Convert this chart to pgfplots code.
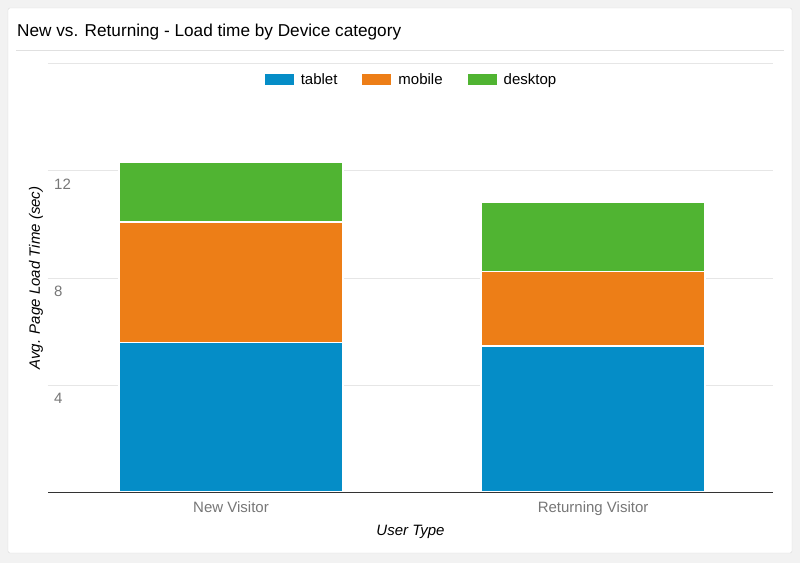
\documentclass[border=0pt]{standalone}
\usepackage{pgfplots}
\pgfplotsset{compat=1.18}
\usepackage{fontspec}
\setmainfont{Liberation Sans}

\definecolor{gaTablet}{HTML}{058DC7}
\definecolor{gaMobile}{HTML}{ED7E17}
\definecolor{gaDesktop}{HTML}{50B432}
\definecolor{tickgray}{HTML}{777777}
\definecolor{gridgray}{HTML}{E6E6E6}

\newcommand{\fs}[1]{\fontsize{#1}{#1}\selectfont}

\pgfplotsset{
	frame/.style={
		at={(48pt,71pt)}, anchor=south west,
		scale only axis,
		width=725pt, height=428pt,
		xmin=-0.5055, xmax=1.497,
		ymin=0, ymax=16,
	},
}

\begin{document}
\begin{tikzpicture}[x=1pt,y=1pt]
	% page and card
	\fill[black!5] (0,0) rectangle (800,563);
	\draw[fill=white, draw=black!15, rounded corners=2pt] (8,10) rectangle (792,555);
	\draw[black!12] (16,513) -- (784,513);
	\node[anchor=west, inner sep=0pt] at (17,531) {\fs{17.2}New vs. Returning - Load time by Device category};

	\begin{axis}[
			frame,
			ybar stacked,
			bar width=224pt,
			xtick={0,1},
			xticklabels={New Visitor,Returning Visitor},
			ytick={4,8,12},
			extra y ticks={16},
			extra y tick labels={},
			ymajorgrids,
			grid style={gridgray, line width=1pt},
			axis line style={draw=none},
			major tick length=0pt,
			/pgf/number format/assume math mode=true,
			ticklabel style={font=\fs{15}, text=tickgray},
			yticklabel style={anchor=north west, inner sep=0pt, xshift=6pt, yshift=-8pt},
			xticklabel style={inner sep=0pt, yshift=-9pt},
			ylabel={\itshape Avg. Page Load Time (sec)},
			xlabel={\itshape User Type},
			every axis y label/.style={at={(rel axis cs:-0.0166,0.5)}, rotate=90, anchor=center, font=\fs{15}},
			every axis x label/.style={at={(rel axis cs:0.5,0)}, anchor=center, yshift=-40pt, font=\fs{15}},
			legend columns=-1,
			legend style={
				at={(rel axis cs:0.5,1)}, anchor=center, yshift=-16pt,
				draw=none, fill=none, font=\fs{15},
				nodes={inner sep=0pt, anchor=west},
				/tikz/every odd column/.append style={column sep=7pt},
				/tikz/every even column/.append style={column sep=25pt},
			},
			legend image code/.code={\fill[#1, draw=none] (0pt,-5.5pt) rectangle (29pt,5.5pt);},
		]

		\addplot+[fill=gaTablet, draw=white, line width=1.5pt] coordinates {
			(0, 5.58)
			(1, 5.46)
		};
		\addplot+[fill=gaMobile, draw=white, line width=1.5pt] coordinates {
			(0, 4.52)
			(1, 2.78)
		};
		\addplot+[fill=gaDesktop, draw=white, line width=1.5pt] coordinates {
			(0, 2.23)
			(1, 2.61)
		};
		\legend{tablet,mobile,desktop}
	\end{axis}

	% second, empty axis on the same frame: only the baseline, over the bars
	\begin{axis}[
			frame,
			axis x line*=bottom,
			axis y line=none,
			x axis line style={black!80, line width=1pt},
			xtick=\empty, ytick=\empty,
		]
	\end{axis}
\end{tikzpicture}
\end{document}
